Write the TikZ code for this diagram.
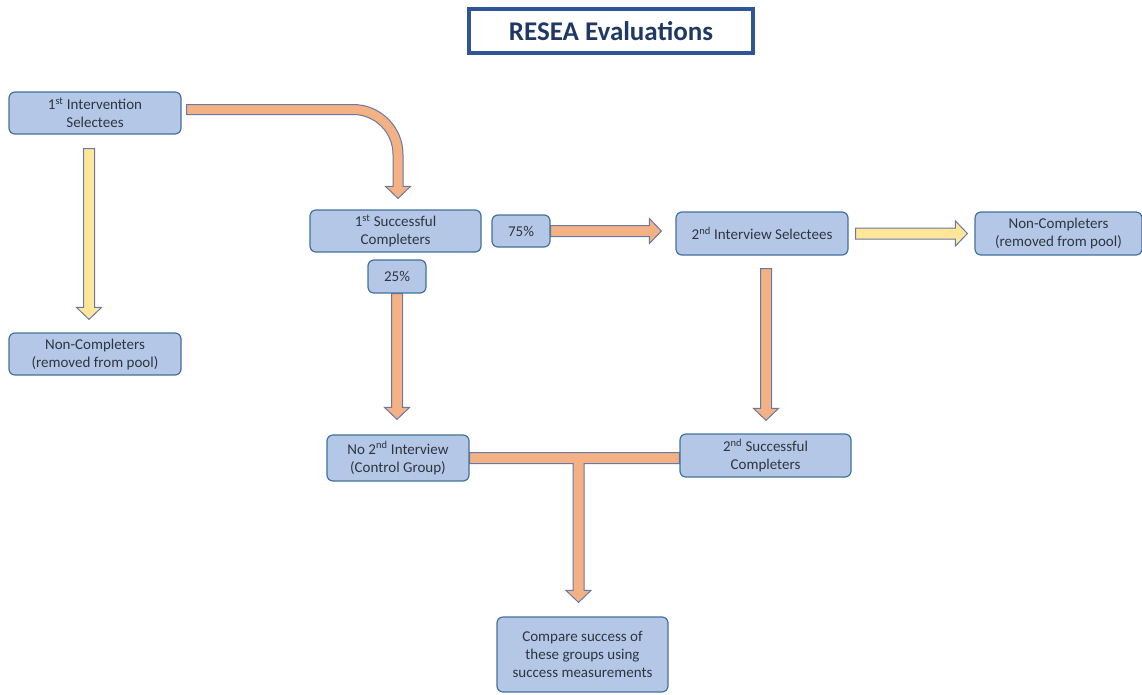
\documentclass[tikz,border=0pt]{standalone}
\usepackage{fontspec}
\setmainfont{Carlito}
\usetikzlibrary{calc,backgrounds}

\definecolor{boxfill}{HTML}{B4C7E7}
\definecolor{boxline}{HTML}{41719C}
\definecolor{boxtext}{HTML}{2E3540}
\definecolor{arrorange}{HTML}{F4B183}
\definecolor{arryellow}{HTML}{FFE699}
\definecolor{arrline}{HTML}{6878A8}
\definecolor{titleblue}{HTML}{2F5597}
\definecolor{titletext}{HTML}{203864}

\tikzset{
  box/.style={draw=boxline, fill=boxfill, line width=1.2pt, rounded corners=6pt,
    align=center, text=boxtext, inner sep=0pt, font=\fontsize{15}{18}\selectfont},
  titlebox/.style={draw=titleblue, line width=3.5pt, text=titletext, inner sep=0pt,
    font=\fontsize{27}{32}\selectfont\bfseries},
  blockarrow/.style={draw=arrline, line width=1pt, line join=miter},
}

%% block arrows: start, tip, fill
\newcommand{\blockdown}[3]{%
  \draw[blockarrow, fill=#3] let \p1=(#1), \p2=(#2) in
    (\x1-5.5pt,\y1) -- (\x1-5.5pt,\y2+12pt) -- (\x1-12.5pt,\y2+12pt) -- (\x1,\y2)
    -- (\x1+12.5pt,\y2+12pt) -- (\x1+5.5pt,\y2+12pt) -- (\x1+5.5pt,\y1) -- cycle;}
\newcommand{\blockright}[3]{%
  \draw[blockarrow, fill=#3] let \p1=(#1), \p2=(#2) in
    (\x1,\y1+5.5pt) -- (\x2-12pt,\y1+5.5pt) -- (\x2-12pt,\y1+12.5pt) -- (\x2,\y1)
    -- (\x2-12pt,\y1-12.5pt) -- (\x2-12pt,\y1-5.5pt) -- (\x1,\y1-5.5pt) -- cycle;}

\begin{document}
\begin{tikzpicture}[x=1pt, y=1pt]
  \useasboundingbox (0,0) rectangle (1142,-694);

  \node[titlebox, minimum width=284pt, minimum height=44pt] (title) at (611,-31) {RESEA Evaluations};

  %% first round
  \node[box, minimum width=172pt, minimum height=42pt] (sel1) at (95,-113)
    {1\textsuperscript{st} Intervention\\Selectees};
  \node[box, minimum width=172pt, minimum height=42pt] (noncomp1) at (95,-354)
    {Non-Completers\\(removed from pool)};
  \node[box, minimum width=171pt, minimum height=42pt] (succ1) at (395.5,-231)
    {1\textsuperscript{st} Successful\\Completers};
  \node[box, minimum width=58pt, minimum height=33pt] (pct25) at (397,-276.5) {25\%};
  \node[box, minimum width=58pt, minimum height=32pt] (pct75) at (521,-231) {75\%};

  %% second round
  \node[box, minimum width=172pt, minimum height=43pt] (sel2) at (762,-233.5)
    {2\textsuperscript{nd} Interview Selectees};
  \node[box, minimum width=167pt, minimum height=43pt] (noncomp2) at (1058.5,-233.5)
    {Non-Completers\\(removed from pool)};
  \node[box, minimum width=142pt, minimum height=46pt] (control) at (398,-458)
    {No 2\textsuperscript{nd} Interview\\(Control Group)};
  \node[box, minimum width=171pt, minimum height=43pt] (succ2) at (765.5,-455.5)
    {2\textsuperscript{nd} Successful\\Completers};
  \node[box, minimum width=171pt, minimum height=75pt] (compare) at (582.5,-654.5)
    {Compare success of\\these groups using\\success measurements};

  \begin{scope}[on background layer]
    \blockdown{$(sel1.south)+(-6,-14)$}{$(noncomp1.north)+(-6,13)$}{arryellow}

    %% curved arrow into first completers
    \draw[blockarrow, fill=arrorange] let \p1=($(sel1.east)+(5,3.5)$), \p2=($(succ1.north)+(2.5,11)$) in
      (\x1,\y1+5pt) -- (\x2-45pt,\y1+5pt) arc[start angle=90, end angle=0, radius=50pt]
      -- (\x2+5pt,\y2+12pt) -- (\x2+12.5pt,\y2+12pt) -- (\x2,\y2) -- (\x2-12.5pt,\y2+12pt)
      -- (\x2-5pt,\y2+12pt) -- (\x2-5pt,\y1-45pt) arc[start angle=0, end angle=90, radius=40pt]
      -- (\x1,\y1-5pt) -- cycle;

    \blockdown{pct25.south}{$(control.north)+(-1,15)$}{arrorange}
    \blockright{pct75.east}{$(sel2.west)+(-14,0)$}{arrorange}
    \blockright{$(sel2.east)+(7,0)$}{$(noncomp2.west)+(-7,0)$}{arryellow}
    \blockdown{$(sel2.south)+(4,-13)$}{$(succ2.north)+(0,13)$}{arrorange}

    %% both groups joined into the comparison
    \draw[blockarrow, fill=arrorange] let \p1=(control.east), \p2=(succ2.west), \p3=($(compare.north)+(-4,14)$) in
      (\x1,\y1+5.5pt) -- (\x2,\y1+5.5pt) -- (\x2,\y1-5.5pt) -- (\x3+5.5pt,\y1-5.5pt)
      -- (\x3+5.5pt,\y3+12pt) -- (\x3+12.5pt,\y3+12pt) -- (\x3,\y3) -- (\x3-12.5pt,\y3+12pt)
      -- (\x3-5.5pt,\y3+12pt) -- (\x3-5.5pt,\y1-5.5pt) -- (\x1,\y1-5.5pt) -- cycle;
  \end{scope}
\end{tikzpicture}
\end{document}
